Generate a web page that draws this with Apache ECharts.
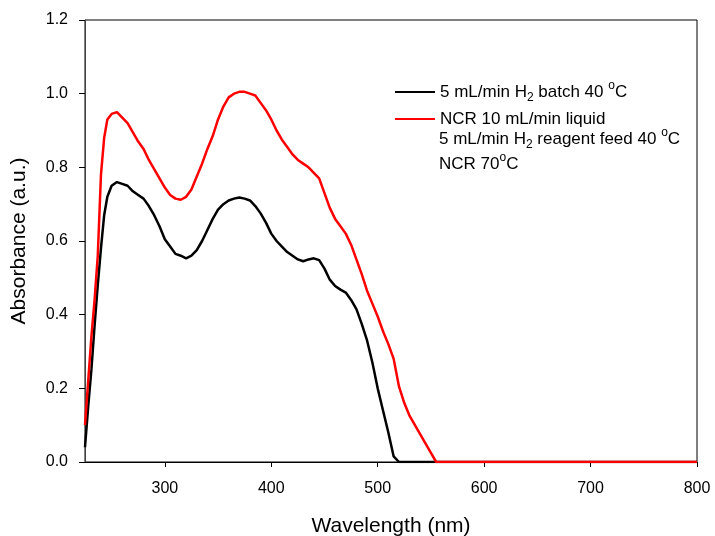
<!DOCTYPE html>
<html>
<head>
<meta charset="utf-8">
<script src="https://cdn.jsdelivr.net/npm/echarts@6/dist/echarts.min.js"></script>
<style>
  html, body { margin: 0; padding: 0; background: #fff; }
  #chart { width: 715px; height: 536px; }
</style>
</head>
<body>
<div id="chart"></div>
<script>
var wavelength = [225, 228, 231, 234, 237, 240, 243, 246, 250, 255, 260, 265, 270, 275, 280, 285, 290, 295,
    300, 305, 310, 315, 320, 325, 330, 335, 340, 345, 350, 355, 360, 365, 370, 375, 380, 385, 390, 395,
    400, 405, 410, 415, 420, 425, 430, 435, 440, 445, 450, 455, 460, 465, 470, 475, 480, 485, 490, 495,
    500, 505, 510, 515, 520, 525, 530, 535, 540, 545, 550, 555, 560, 800];

var batch = [0.04, 0.15, 0.25, 0.37, 0.48, 0.58, 0.67, 0.72, 0.75, 0.76, 0.755, 0.75, 0.735, 0.725, 0.715, 0.695, 0.67, 0.64,
    0.605, 0.585, 0.565, 0.56, 0.553, 0.56, 0.575, 0.6, 0.63, 0.66, 0.685, 0.7, 0.71, 0.715, 0.718, 0.715, 0.71, 0.695, 0.675, 0.65,
    0.62, 0.6, 0.585, 0.57, 0.56, 0.55, 0.545, 0.55, 0.553, 0.548, 0.525, 0.495, 0.478, 0.468, 0.46, 0.44, 0.415, 0.375, 0.33, 0.27,
    0.2, 0.14, 0.08, 0.015, 0, 0, 0, 0, 0, 0, 0, 0, 0, 0];

var ncr = [0.1, 0.22, 0.34, 0.44, 0.56, 0.78, 0.88, 0.93, 0.945, 0.95, 0.935, 0.92, 0.895, 0.87, 0.85, 0.82, 0.795, 0.77,
    0.745, 0.725, 0.715, 0.712, 0.72, 0.74, 0.775, 0.81, 0.85, 0.885, 0.93, 0.965, 0.99, 1.0, 1.005, 1.005, 1.0, 0.995, 0.975, 0.955,
    0.93, 0.9, 0.875, 0.855, 0.835, 0.82, 0.81, 0.8, 0.785, 0.77, 0.73, 0.69, 0.66, 0.64, 0.62, 0.59, 0.55, 0.51, 0.465, 0.43,
    0.395, 0.355, 0.32, 0.28, 0.205, 0.16, 0.125, 0.1, 0.075, 0.05, 0.025, 0, 0, 0];

var seriesNames = ['batch', 'ncr'];
var legendText = {
    batch: '5 mL/min H{sub|2} batch 40 {sup|o}C',
    ncr: 'NCR 10 mL/min liquid'
};
var legendExtra = ['5 mL/min H{sub|2} reagent feed 40 {sup|o}C', 'NCR 70{sup|o}C'];

function pairs(ys) {
    return wavelength.map(function (x, i) { return [x, ys[i]]; });
}

var font = 'Arial, "Liberation Sans", sans-serif';
var richStyle = {
    sub: { fontSize: 12, fontFamily: font, color: '#000', verticalAlign: 'bottom', lineHeight: 24 },
    sup: { fontSize: 12, fontFamily: font, color: '#000', verticalAlign: 'top', lineHeight: 24 }
};

var dom = document.getElementById('chart');
var myChart = echarts.init(dom);
var option = {
    animation: false,
    grid: {
        left: 85, right: 18, top: 20, bottom: 74,
        outerBoundsMode: 'none',
        show: true, borderColor: '#000', borderWidth: 1
    },
    legend: {
        orient: 'vertical',
        left: 390, top: 75,
        itemWidth: 40, itemHeight: 14, itemGap: 3,
        icon: 'path://M0,0 L40,0 L40,2 L0,2 Z',
        data: seriesNames,
        formatter: function (name) { return legendText[name]; },
        textStyle: {
            fontSize: 17, fontFamily: font, color: '#000', lineHeight: 24,
            rich: richStyle
        }
    },
    graphic: [
        {
            type: 'text', left: 439, top: 127,
            style: { text: legendExtra[0], fontSize: 17, fontFamily: font, fill: '#000', lineHeight: 24, rich: richStyle }
        },
        {
            type: 'text', left: 439, top: 152,
            style: { text: legendExtra[1], fontSize: 17, fontFamily: font, fill: '#000', lineHeight: 24, rich: richStyle }
        }
    ],
    xAxis: {
        type: 'value',
        min: 225, max: 800,
        splitNumber: 5,
        name: 'Wavelength (nm)',
        nameLocation: 'middle',
        nameGap: 54,
        nameTextStyle: { fontSize: 21, fontFamily: font, color: '#000' },
        axisLine: { onZero: false, lineStyle: { color: '#000' } },
        axisTick: { length: 5, lineStyle: { color: '#000' } },
        axisLabel: { showMinLabel: false, margin: 19, fontSize: 16, fontFamily: font, color: '#000' },
        splitLine: { show: false }
    },
    yAxis: {
        type: 'value',
        min: 0, max: 1.2, interval: 0.2,
        name: 'Absorbance (a.u.)',
        nameLocation: 'middle',
        nameGap: 55,
        nameTextStyle: { fontSize: 21, fontFamily: font, color: '#000' },
        axisLine: { lineStyle: { color: '#444' } },
        axisTick: { length: 6, lineStyle: { color: '#000' } },
        axisLabel: {
            margin: 17, fontSize: 16, fontFamily: font, color: '#000',
            formatter: function (v) { return v.toFixed(1); }
        },
        splitLine: { show: false }
    },
    series: [
        {
            name: 'batch', type: 'line', data: pairs(batch),
            symbol: 'none', lineStyle: { color: '#000', width: 2.5 }, itemStyle: { color: '#000' }
        },
        {
            name: 'ncr', type: 'line', data: pairs(ncr),
            symbol: 'none', lineStyle: { color: '#ff0000', width: 2.5 }, itemStyle: { color: '#ff0000' }
        }
    ]
};
myChart.setOption(option);
</script>
</body>
</html>
